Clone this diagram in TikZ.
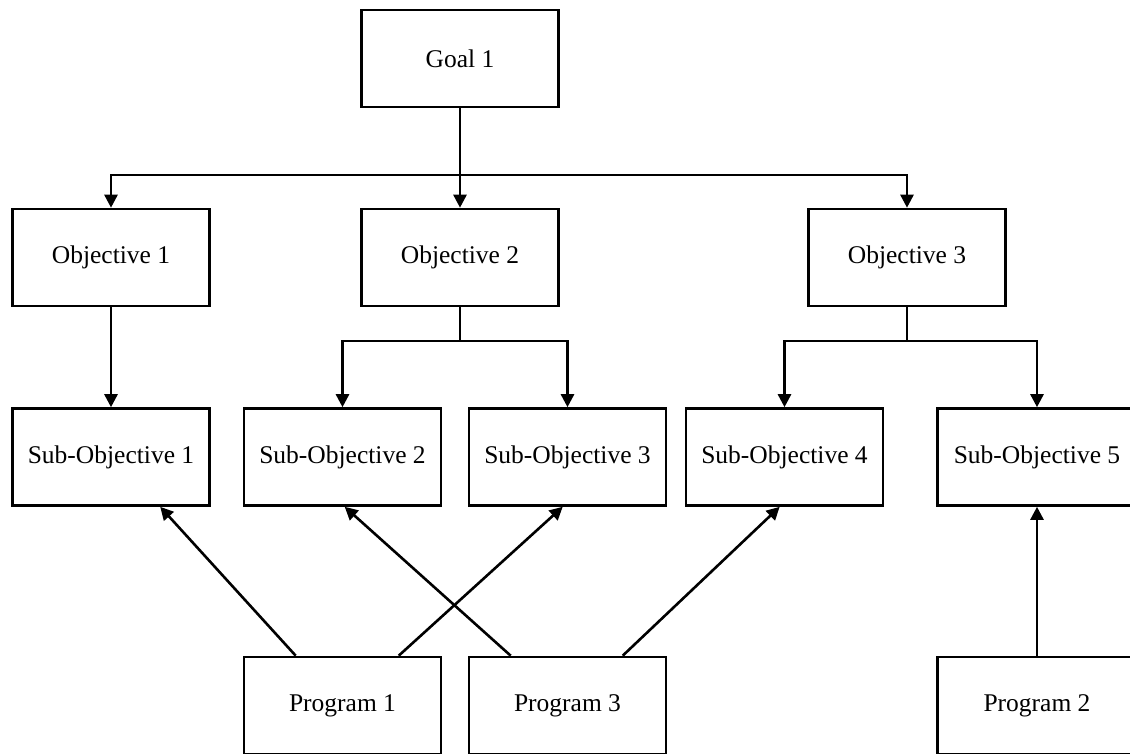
\documentclass[tikz,border=0pt]{standalone}
\usepackage{fontspec}
\setmainfont{Liberation Serif}
\usetikzlibrary{arrows.meta,calc}
\begin{document}
\begin{tikzpicture}[x=1pt,y=-1pt,
  box/.style={draw,line width=2.6pt,minimum width=197pt,minimum height=97pt,inner sep=0pt,font=\fontsize{25.5}{30}\selectfont},
  wideb/.style={box,minimum width=199pt},
  conn/.style={line width=2.6pt},
  arr/.style={conn,-{Triangle[length=13pt,width=13pt]}}]
\clip (0,0) rectangle (1130,753);
\fill[white] (0,0) rectangle (1130,753);
\node[box] (g) at (460,58.5) {Goal 1};
\node[box] (o1) at (111,257.5) {Objective 1};
\node[box] (o2) at (460,257.5) {Objective 2};
\node[box] (o3) at (907,257.5) {Objective 3};
\node[box] (s1) at (111,457) {Sub-Objective 1};
\node[box] (s2) at (342.5,457) {Sub-Objective 2};
\node[box] (s3) at (567.5,457) {Sub-Objective 3};
\node[box] (s4) at (784.5,457) {Sub-Objective 4};
\node[wideb] (s5) at (1037,457) {Sub-Objective 5};
\node[box] (p1) at (342.5,705.5) {Program 1};
\node[box] (p3) at (567.5,705.5) {Program 3};
\node[wideb] (p2) at (1037,705.5) {Program 2};
\coordinate (b1) at (460,175);
\coordinate (b2) at (460,341);
\coordinate (b3) at (907,341);
\draw[conn] (g) -- (b1);
\draw[arr] (b1) -| (o1);
\draw[arr] (b1) -- (o2);
\draw[arr] (b1) -| (o3);
\draw[arr] (o1) -- (s1);
\draw[conn] (o2) -- (b2);
\draw[arr] (b2) -| (s2);
\draw[arr] (b2) -| (s3);
\draw[conn] (o3) -- (b3);
\draw[arr] (b3) -| (s4);
\draw[arr] (b3) -| (s5);
\draw[arr] ($(p1.north west)+(53,0)$) -- ($(s1.south west)+(149,0)$);
\draw[arr] ($(p1.north west)+(156,0)$) -- ($(s3.south west)+(95,0)$);
\draw[arr] ($(p3.north west)+(43,0)$) -- ($(s2.south west)+(102,0)$);
\draw[arr] ($(p3.north west)+(155,0)$) -- ($(s4.south west)+(95,0)$);
\draw[arr] (p2) -- (s5);
\end{tikzpicture}
\end{document}
